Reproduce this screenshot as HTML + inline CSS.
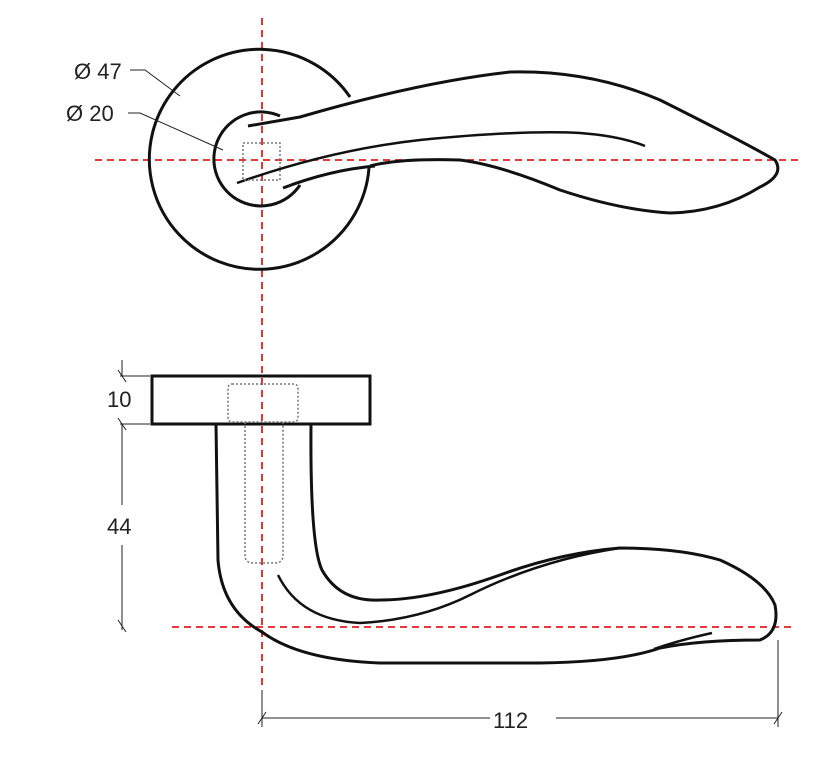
<!DOCTYPE html>
<html><head><meta charset="utf-8"><style>body{margin:0;background:#fff}svg{display:block}text{font-family:"Liberation Sans",sans-serif;font-size:22px;fill:#222}</style></head>
<body>
<svg width="818" height="764" viewBox="0 0 818 764">
<g fill="none" stroke="#e02020" stroke-width="1.8" stroke-dasharray="7,5">
<line x1="262" y1="18" x2="262" y2="685"/>
<line x1="95" y1="160" x2="800" y2="160"/>
<line x1="172" y1="627" x2="792" y2="627"/>
</g>
<g fill="none" stroke="#111" stroke-width="3">
<path d="M350,97 A110,110 0 1 0 369,168"/>
<path d="M280,116 A47,47 0 1 0 300,185"/>
<path d="M248,126 L300,117 Q420,82 510,72 Q590,70 660,100 Q740,140 775,160 Q785,175 760,187 Q720,212 670,213 Q620,210 560,190 Q500,165 460,160 Q400,158 370,166"/>
<path d="M237,183 Q330,150 420,140 Q520,130 580,133 Q620,136 645,146" stroke-width="2.5"/>
<path d="M283,188 Q330,170 375,166"/>
<rect x="152" y="376" width="218" height="48" stroke-width="3"/>
<path d="M216,424 L218,560 Q222,610 262,632 Q300,660 380,663 L540,663 Q620,662 660,648 Q700,640 760,640 Q780,632 775,605 Q765,580 720,560 Q680,548 620,548 Q560,553 500,575 Q430,600 380,600 Q340,602 322,570 Q310,545 311,424"/>
<path d="M278,575 Q300,620 360,623 Q420,620 470,595 Q540,560 620,548" stroke-width="2.5"/>
<path d="M654,649 Q680,640 712,633" stroke-width="2.5"/>
</g>
<g fill="none" stroke="#777" stroke-width="1.5" stroke-dasharray="2,2">
<rect x="243" y="143" width="37" height="37"/>
<rect x="228" y="384" width="70" height="38" rx="4"/>
<path d="M245,422 L245,555 Q245,563 253,563 L275,563 Q283,563 283,555 L283,422"/>
</g>
<g fill="none" stroke="#222" stroke-width="1">
<path d="M130,70 L145,70 L180,96"/>
<path d="M128,113 L140,113 L223,150"/>
<line x1="120" y1="376" x2="150" y2="376"/><line x1="122" y1="360" x2="122" y2="376"/>
<line x1="120" y1="424" x2="150" y2="424"/>
<line x1="122" y1="424" x2="122" y2="505"/><line x1="122" y1="545" x2="122" y2="630"/>
<line x1="118" y1="620" x2="126" y2="632"/><line x1="118" y1="418" x2="126" y2="430"/><line x1="118" y1="370" x2="126" y2="382"/>
<line x1="262" y1="690" x2="262" y2="727"/><line x1="778" y1="640" x2="778" y2="727"/>
<line x1="262" y1="718" x2="490" y2="718"/><line x1="556" y1="718" x2="778" y2="718"/>
<line x1="258" y1="724" x2="266" y2="712"/><line x1="774" y1="724" x2="782" y2="712"/>
</g>
<text x="74" y="79">Ø 47</text>
<text x="66" y="121">Ø 20</text>
<text x="107" y="407">10</text>
<text x="107" y="534">44</text>
<text x="493" y="728">112</text>
</svg>
</body></html>
